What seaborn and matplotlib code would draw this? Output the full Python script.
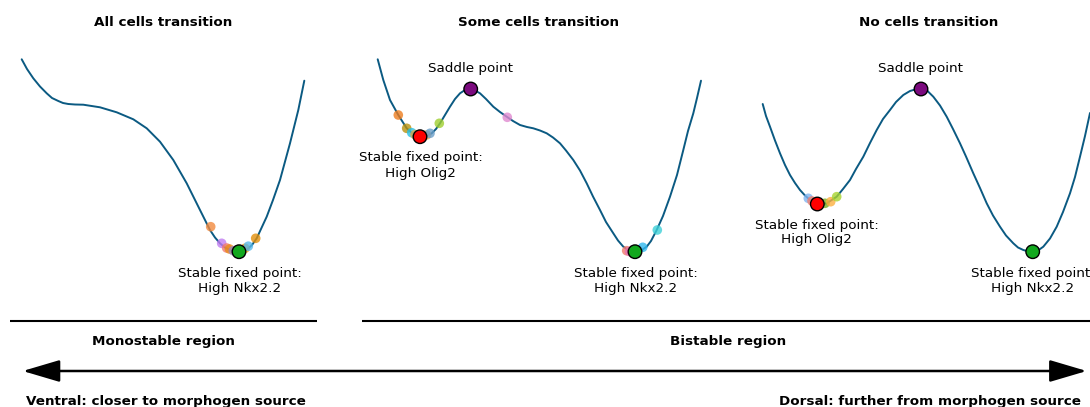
import matplotlib
matplotlib.use("Agg")
import matplotlib.pyplot as plt
import seaborn as sns
import pandas as pd
from matplotlib.patches import ArrowStyle

sns.set_theme(style="white")
plt.rcParams["font.family"] = ["DejaVu Sans"]
plt.rcParams["text.color"] = "black"

# ---------------- data (figure-pixel units) ----------------
titles = ["All cells transition", "Some cells transition", "No cells transition"]
title_x = [163, 539, 929]

# potential landscape curves (x position, potential drawn downward)
curve1_x = [21.7, 27, 33.3, 40, 46.7, 52, 58.3, 63, 68.3, 75, 83.3, 100, 116.7, 133.3, 146.7,
            160, 173.3, 186.7, 200, 210, 215, 220, 225, 230, 235, 239, 244, 248.3, 252,
            256.7, 261, 266.7, 273, 280, 290, 298.3, 304.3]
curve1_y = [59.3, 69, 78.3, 86.5, 93.3, 98, 101, 103, 104, 104.5, 104.7, 107.3, 112.3, 119.3, 128.3,
            141.7, 160, 183.3, 210, 230, 237.5, 243.3, 247.5, 250, 251.3, 251.7, 251, 248.3, 245,
            238.3, 229, 216.7, 200, 180, 143.3, 110, 80.7]

curve2_x = [377.7, 383.3, 390, 398.3, 406.7, 412, 416, 420, 426, 431.7, 436, 440, 445, 450, 455,
            460, 465, 470.7, 475, 480, 486, 493.3, 500, 506.7, 513, 520, 527, 533.3, 540,
            546.7, 553, 560, 566, 573.3, 580, 586.7, 593, 600, 606, 613.3, 618, 623.3, 629,
            635, 641, 646.7, 651, 656.7, 663, 670, 677, 683.3, 688, 693.3, 697, 701]
curve2_y = [59.3, 80, 100, 115, 128.3, 133, 135.5, 136.7, 136, 133.3, 129, 123.3, 115, 106.7, 99,
            93.3, 90, 89, 90.5, 93.3, 99, 106.7, 112, 116.7, 121, 125, 127, 128.3, 130.5,
            133.3, 137.5, 143.3, 150.5, 160, 170.5, 183.3, 196.5, 210, 222, 233.3, 240.5, 246.7, 250.5,
            251.7, 250.5, 246.7, 241, 230, 216, 196.7, 175, 150, 131, 113.3, 98, 80.7]

curve3_x = [762.7, 766, 770, 775, 780, 785, 790, 795, 800, 805, 810, 814, 817.3, 822, 826.7,
            831, 836.7, 843, 850, 856, 863.3, 870, 876.7, 883, 890, 896, 903.3, 910, 915,
            921, 927, 933.3, 940, 946.7, 953, 960, 966, 973.3, 980, 986.7, 993, 1000, 1006,
            1013.3, 1018, 1023.3, 1028, 1032.7, 1038, 1043.3, 1050, 1056.7, 1063, 1070, 1075,
            1080, 1085, 1090]
curve3_y = [104, 116, 126.7, 140.5, 153.3, 165, 175, 183, 190, 195.5, 200, 202.5, 204, 204.3, 203.3,
            200.5, 196.7, 189, 180, 169, 156.7, 143, 130, 119, 110, 102, 95, 91, 89.5,
            89, 90.5, 96.7, 105.5, 116.7, 129, 143.3, 156.5, 173.3, 188, 203.3, 215.5, 226.7, 235.5,
            243.3, 247.5, 250, 251.3, 251.7, 250.5, 246.7, 238.5, 226.7, 212, 193.3, 177,
            156.7, 136, 113]

# fixed points
fixed_x = [239, 420, 470.7, 635, 817.3, 921, 1032.7]
fixed_y = [251.7, 136.7, 89, 251.7, 204, 89, 251.7]
fixed_kind = ["Nkx2.2", "Olig2", "saddle", "Nkx2.2", "Olig2", "saddle", "Nkx2.2"]
fixed_palette = {"Nkx2.2": "#12a81e", "Olig2": "#ff0000", "saddle": "#7b0a7e"}

# individual cells sitting on the landscapes
cell_x = [210.7, 221.7, 226.7, 229.5, 233.3, 236.5, 245, 248.3, 255.7,
          398.3, 406.7, 411.7, 415, 426.5, 430, 439.3, 507.3, 626.7, 629.5, 642.7, 657.3,
          808.3, 812, 825, 830.7, 836.7]
cell_y = [226.7, 243.3, 248, 249, 250.7, 251, 248.3, 246.2, 238.3,
          115, 128.3, 132.7, 134.5, 135, 133.3, 123.3, 117.3, 250.7, 251.5, 247.3, 230,
          198.3, 201, 203.3, 201.7, 196.7]
cell_color = ["#f28a3f", "#c07cf0", "#f27a6e", "#e88a1a", "#9a86b8", "#2bb6c8", "#e69a10", "#57b8ea", "#e3900c",
              "#ed7d1f", "#b8920e", "#27c0e4", "#d9a84a", "#e6a05a", "#6a9ec8", "#9fcf30", "#e08ad0",
              "#f07a6a", "#e870b0", "#30b8ee", "#3ed0d8",
              "#80b4f0", "#f08070", "#78ad20", "#fcb040", "#a8d430"]

stable_labels = ["Stable fixed point:\nHigh Nkx2.2", "Stable fixed point:\nHigh Olig2",
                 "Stable fixed point:\nHigh Nkx2.2", "Stable fixed point:\nHigh Olig2",
                 "Stable fixed point:\nHigh Nkx2.2"]
stable_label_x = [240, 420.5, 635.8, 816.7, 1032.5]
stable_label_y = [281, 165.5, 281, 232.5, 281]
saddle_label_x = [470.5, 920.7]
saddle_label_y = [68.3, 68.3]

regions = ["Monostable region", "Bistable region"]
region_start = [9.5, 361.7]
region_end = [316.7, 1090]
region_label_x = [163, 728]

ventral_text = "Ventral: closer to morphogen source"
dorsal_text = "Dorsal: further from morphogen source"

# ---------------- figure ----------------
W, H = 1090, 407
fig = plt.figure(figsize=(W / 100, H / 100), dpi=100)
ax = fig.add_axes([0, 0, 1, 1])
ax.set_xlim(0, W)
ax.set_ylim(H, 0)
ax.axis("off")

curve_color = "#0b5a82"
for cx, cy in [(curve1_x, curve1_y), (curve2_x, curve2_y), (curve3_x, curve3_y)]:
    sns.lineplot(x=cx, y=cy, ax=ax, sort=False, estimator=None, color=curve_color, lw=1.4,
                 zorder=2, solid_joinstyle="round")

cells = pd.DataFrame({"x": cell_x, "y": cell_y, "c": cell_color})
sns.scatterplot(data=cells, x="x", y="y", hue="c", palette={c: c for c in cell_color},
                s=48, alpha=0.8, linewidth=0, legend=False, ax=ax, zorder=3)

fixed = pd.DataFrame({"x": fixed_x, "y": fixed_y, "k": fixed_kind})
sns.scatterplot(data=fixed, x="x", y="y", hue="k", palette=fixed_palette,
                s=95, edgecolor="black", linewidth=1.0, legend=False, ax=ax, zorder=4)

fs = 9.7
for t, x in zip(titles, title_x):
    ax.text(x, 23, t, ha="center", va="center", fontsize=fs, fontweight="bold", color="black")
for t, x, y in zip(stable_labels, stable_label_x, stable_label_y):
    ax.text(x, y, t, ha="center", va="center", fontsize=fs, linespacing=1.2, color="black")
for x, y in zip(saddle_label_x, saddle_label_y):
    ax.text(x, y, "Saddle point", ha="center", va="center", fontsize=fs, color="black")

for s, e, lbl, lx in zip(region_start, region_end, regions, region_label_x):
    ax.plot([s, e], [321, 321], color="black", lw=1.5, solid_capstyle="butt")
    ax.text(lx, 342, lbl, ha="center", va="center", fontsize=fs, fontweight="bold", color="black")

ax.annotate("", xy=(22.7, 371), xytext=(1086.7, 371),
            arrowprops=dict(arrowstyle=ArrowStyle("<|-|>", head_length=23, head_width=6.8),
                            mutation_scale=1, color="black", lw=1.8, shrinkA=0, shrinkB=0))

ax.text(25.5, 401, ventral_text, ha="left", va="center", fontsize=fs, fontweight="bold", color="black")
ax.text(1081, 401, dorsal_text, ha="right", va="center", fontsize=fs, fontweight="bold", color="black")

fig.savefig("out.png", dpi=100)
